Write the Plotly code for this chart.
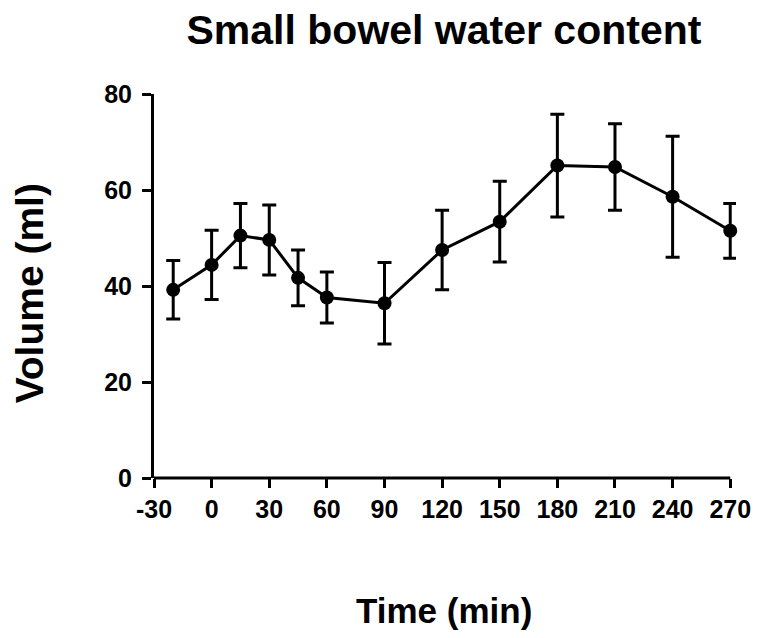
import plotly.graph_objects as go

time_min = [-20, 0, 15, 30, 45, 60, 90, 120, 150, 180, 210, 240, 270]
volume_ml = [39.2, 44.4, 50.5, 49.6, 41.7, 37.6, 36.4, 47.5, 53.4, 65.1, 64.8, 58.6, 51.5]
error_ml = [6.1, 7.2, 6.7, 7.3, 5.8, 5.3, 8.5, 8.3, 8.4, 10.7, 9.0, 12.6, 5.7]
x_ticks = [-30, 0, 30, 60, 90, 120, 150, 180, 210, 240, 270]
y_ticks = [0, 20, 40, 60, 80]

FONT = "Liberation Sans, Arial, Helvetica, sans-serif"
BOLD_TICK = dict(family=FONT, size=25, color="black", weight="bold")
BOLD_XTITLE = dict(family=FONT, size=35, color="black", weight="bold")
BOLD_YTITLE = dict(family=FONT, size=39, color="black", weight="bold")

fig = go.Figure()
fig.add_trace(go.Scatter(
    x=time_min, y=volume_ml,
    mode="lines+markers",
    line=dict(color="black", width=3),
    marker=dict(color="black", size=14),
    error_y=dict(type="data", array=error_ml, visible=True,
                 color="black", thickness=3, width=7),
    cliponaxis=False,
    showlegend=False,
))

# x axis line drawn from first to last tick (range is padded slightly so end error bars are not clipped)
fig.add_shape(type="line", xref="x", yref="paper",
              x0=x_ticks[0], x1=x_ticks[-1], y0=0, y1=0,
              line=dict(color="black", width=3), layer="above")

fig.update_layout(
    width=759, height=638,
    paper_bgcolor="white", plot_bgcolor="white",
    margin=dict(l=146, r=31, t=86, b=168),
    title=dict(text="Small bowel water content", xref="container", x=0.5744,
               xanchor="center", yref="container", y=0.966, yanchor="middle",
               font=dict(family=FONT, size=41, color="black", weight="bold")),
    font=dict(family=FONT, color="black"),
    annotations=[
        dict(text="Time (min)", xref="paper", yref="paper", x=0.4987, y=-0.344,
             xanchor="center", yanchor="middle", showarrow=False, font=BOLD_XTITLE),
        dict(text="Volume (ml)", xref="paper", yref="paper", x=-0.214, y=0.482,
             xanchor="center", yanchor="middle", textangle=-90, showarrow=False,
             font=BOLD_YTITLE),
    ],
)
fig.update_xaxes(
    range=[x_ticks[0], x_ticks[-1] + 3], tickvals=x_ticks, ticktext=[str(v) for v in x_ticks],
    showgrid=False, zeroline=False, showline=False,
    ticks="outside", ticklen=9, tickwidth=3, tickcolor="black",
    tickfont=BOLD_TICK,
)
fig.update_yaxes(
    range=[0, 80], tickvals=y_ticks,
    showgrid=False, zeroline=False,
    showline=True, linecolor="black", linewidth=3,
    ticks="outside", ticklen=9, tickwidth=3, tickcolor="black",
    ticklabelstandoff=5,
    tickfont=BOLD_TICK,
)

fig.write_html("out.html")
